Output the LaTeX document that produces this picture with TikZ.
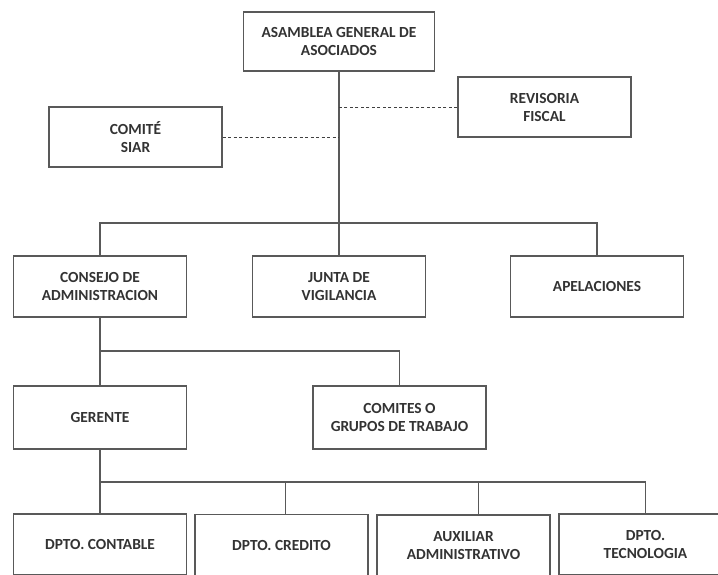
\documentclass[tikz,border=0pt]{standalone}
\usepackage{fontspec}
\setmainfont{Carlito}
\tikzset{>=latex}
\tikzset{
  unidad/.style={draw=black!65,line width=1.3pt,fill=white,rectangle,
    minimum width=173pt,minimum height=61pt,inner sep=0pt,
    align=center,font=\fontsize{15.4}{18}\selectfont\bfseries,text=black!80},
  enlace/.style={draw=black!65,line width=1.2pt},
  punteado/.style={draw=black!75,line width=1pt,dash pattern=on 3pt off 2.5pt}
}

\begin{document}
\begin{tikzpicture}[x=1pt,y=-1pt]
\path[use as bounding box,clip] (0,0) rectangle (718,574);
\fill[white] (0,0) rectangle (718,574);

\begin{scope}[every node/.style={unidad}]
\node (asamblea) at (339,41.5) [minimum width=191pt,minimum height=59pt] {ASAMBLEA GENERAL DE\\ASOCIADOS};
\node (revisoria) at (544.5,107) [minimum height=60pt] {REVISORIA\\FISCAL};
\node (siar) at (135.5,137) [minimum height=60pt] {COMITÉ\\SIAR};

\node (consejo) at (100,286.5) {CONSEJO DE\\ADMINISTRACION};
\node (junta) at (339,286.5) {JUNTA DE\\VIGILANCIA};
\node (apelaciones) at (597,286.5) {APELACIONES};

\node (gerente) at (100,417.5) [minimum height=63pt] {GERENTE};
\node (comites) at (399.5,417.5) [minimum height=63pt] {COMITES O\\GRUPOS DE TRABAJO};

\node (contable) at (100,544.5) {DPTO. CONTABLE};
\node (credito) at (281.5,545) {DPTO. CREDITO};
\node (auxiliar) at (463.5,545.5) {AUXILIAR\\ADMINISTRATIVO};
\node (tecnologia) at (645.5,544.5) {DPTO.\\TECNOLOGIA};
\end{scope}

\coordinate (bus1) at (0,223);
\coordinate (bus2) at (0,351);
\coordinate (bus3) at (0,482);
\coordinate (auxtop) at ([xshift=15pt]auxiliar.north);
\coordinate (credtop) at ([xshift=4pt]credito.north);

\begin{scope}[enlace]
    \draw (asamblea.south) -- (junta.north);
    \draw (consejo.north) -- (consejo.north |- bus1) -- (apelaciones.north |- bus1) -- (apelaciones.north);

    \draw (consejo.south) -- (gerente.north);
    \draw (gerente.north |- bus2) -| (comites.north);

    \draw (gerente.south) -- (contable.north);
    \draw (gerente.south |- bus3) -| (tecnologia.north);
    \draw (credtop |- bus3) -- (credtop);
    \draw (auxtop |- bus3) -- (auxtop);
\end{scope}

% relaciones de asesoria
\draw[punteado] (revisoria.west) -- (revisoria.west -| asamblea.south);
\draw[punteado] (siar.east) -- (siar.east -| asamblea.south);
\end{tikzpicture}
\end{document}
